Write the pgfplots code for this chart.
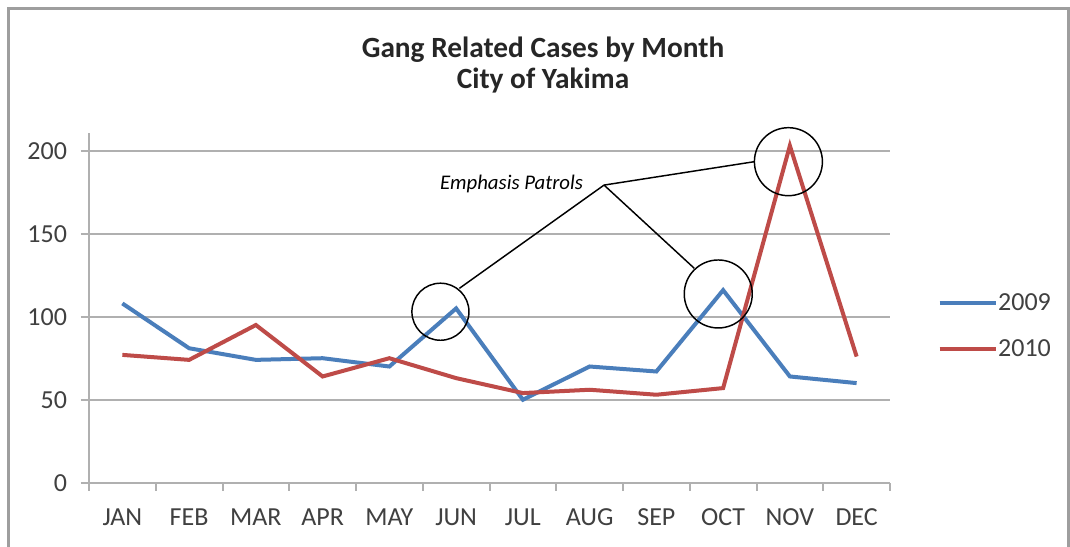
\documentclass[border=0pt]{standalone}
\usepackage{pgfplots}
\pgfplotsset{compat=1.18}
\usepackage{fontspec}
\setmainfont{Carlito}
\definecolor{blue09}{HTML}{4A7EBB}
\definecolor{red10}{HTML}{BE4B48}
\definecolor{gridc}{HTML}{B0B0B0}
\definecolor{txt}{HTML}{404040}
\begin{document}
\begin{tikzpicture}[x=0.75pt,y=0.75pt]
\useasboundingbox (0,0) rectangle (1070,546);
\fill[white] (0,0) rectangle (1070,546);
\draw[gridc!90!black, line width=2.25pt] (8,-10) -- (8,537) -- (1068,537) -- (1068,-10);
\node[font=\fontsize{22pt}{26pt}\selectfont\bfseries, text=black!85] at (543,496) {Gang Related Cases by Month};
\node[font=\fontsize{22pt}{26pt}\selectfont\bfseries, text=black!85] at (543,465) {City of Yakima};
\begin{axis}[
  at={(66.75pt,47.475pt)}, anchor=south west,
  scale only axis, width=600.75pt, height=262.3pt,
  xmin=-0.5, xmax=11.5, ymin=0, ymax=210.7,
  axis x line*=bottom, axis y line*=left,
  axis line style={gridc, line width=1.5pt},
  xtick={0,...,11},
  xticklabels={JAN,FEB,MAR,APR,MAY,JUN,JUL,AUG,SEP,OCT,NOV,DEC},
  minor xtick={-0.5,0.5,...,11.5},
  every major x tick/.append style={draw=none},
  ytick={0,50,100,150,200},
  tick align=outside,
  major tick length=6pt, minor tick length=6pt,
  tick style={gridc, line width=1.5pt},
  ymajorgrids,
  major grid style={gridc, line width=1.5pt},
  /pgf/number format/assume math mode=true,
  tick label style={font=\fontsize{19.5pt}{23pt}\selectfont, text=txt},
  xticklabel style={yshift=-10pt},
  yticklabel style={xshift=-7pt},
  clip=false,
  legend style={draw=none, fill=none, at={(1.054,0.448)}, anchor=west,
    font=\fontsize{19.5pt}{23pt}\selectfont, text=txt, row sep=16pt,
    nodes={inner xsep=0.5pt}},
  legend cell align=left,
  legend image code/.code={\draw[#1] (0pt,0pt) -- (42pt,0pt);},
]
\addplot[blue09, line width=3pt] coordinates {
(0,108) (1,81) (2,74) (3,75) (4,70) (5,105) (6,50) (7,70) (8,67) (9,116) (10,64) (11,60)};
\addlegendentry{2009}
\addplot[red10, line width=3pt] coordinates {
(0,77) (1,74) (2,95) (3,64) (4,75) (5,63) (6,54) (7,56) (8,53) (9,57) (10,203) (11,76)};
\addlegendentry{2010}
\draw[black, line width=1.1pt] (axis cs:4.765,103) circle[radius=21.4pt];
\draw[black, line width=1.1pt] (axis cs:8.927,113.7) circle[radius=25.5pt];
\draw[black, line width=1.1pt] (axis cs:9.978,193.4) circle[radius=25.5pt];
\draw[black, line width=1.1pt] (axis cs:5.049,117.1) -- (axis cs:7.216,179.3) -- (axis cs:9.468,193.4);
\draw[black, line width=1.1pt] (axis cs:7.216,179.3) -- (axis cs:8.567,129.2);
\node[font=\fontsize{15.6pt}{18pt}\selectfont\itshape] at (axis cs:5.831,179.7) {Emphasis Patrols};
\end{axis}
\end{tikzpicture}
\end{document}
